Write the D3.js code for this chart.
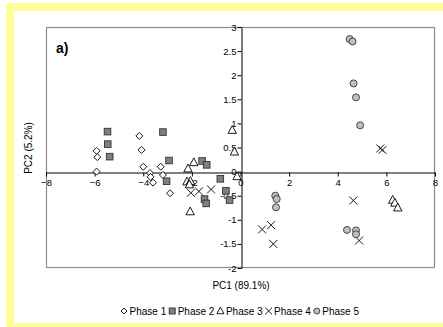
<!DOCTYPE html>
<html><head><meta charset="utf-8">
<script src="https://cdn.jsdelivr.net/npm/d3@7"></script>
<style>body{margin:0;background:#fff;}svg{display:block;font-family:"Liberation Sans",Arial,sans-serif;}</style>
</head><body>
<svg id="c" width="443" height="327"></svg>
<script>
const phaseNames = ["Phase 1","Phase 2","Phase 3","Phase 4","Phase 5"];
const phase1 = [[-5.92,0.43],[-5.89,0.30],[-5.92,0.0],[-4.16,0.74],[-4.07,0.45],[-4.0,0.10],[-3.72,-0.03],[-3.70,-0.11],[-3.60,-0.23],[-3.28,0.10],[-3.19,-0.07],[-2.90,-0.45]];
const phase2 = [[-5.47,0.83],[-5.46,0.57],[-5.38,0.31],[-3.19,0.82],[-2.94,0.23],[-3.04,-0.20],[-1.58,0.22],[-1.39,0.14],[-0.83,-0.15],[-1.48,-0.57],[-1.41,-0.66],[-0.60,-0.40],[-0.45,-0.59]];
const phase3 = [[-0.34,0.86],[-0.25,0.41],[-0.14,-0.10],[-1.92,0.19],[-2.16,0.06],[-2.20,-0.21],[-2.06,-0.20],[-2.10,-0.27],[-2.07,-0.83],[6.26,-0.59],[6.35,-0.65],[6.47,-0.75]];
const phase4 = [[-2.04,-0.44],[-1.71,-0.41],[-1.21,-0.37],[0.89,-1.20],[1.26,-1.11],[1.35,-1.50],[4.64,-0.60],[4.88,-1.43],[5.75,0.48],[5.84,0.45]];
const phase5 = [[4.49,2.75],[4.61,2.70],[4.65,1.83],[4.75,1.54],[4.92,0.96],[1.43,-0.50],[1.49,-0.57],[1.46,-0.74],[4.38,-1.21],[4.75,-1.22],[4.75,-1.30]];
const xTicks = [-8,-6,-4,-2,0,2,4,6,8];
const yTicks = [-2,-1.5,-1,-0.5,0,0.5,1,1.5,2,2.5,3];
const xTitle = "PC1 (89.1%)";
const yTitle = "PC2 (5.2%)";
const panelLabel = "a)";

const svg = d3.select("#c");
// yellow frame
svg.append("rect").attr("x",6).attr("y",3).attr("width",437).attr("height",8).attr("fill","#ffff99");
svg.append("rect").attr("x",6).attr("y",3).attr("width",8).attr("height",324).attr("fill","#ffff99");
svg.append("rect").attr("x",6).attr("y",323).attr("width",437).attr("height",4).attr("fill","#ffff99");

const L=46,R=435,T=27,B=268;
const x = d3.scaleLinear().domain([-8,8]).range([L,R]);
const y = d3.scaleLinear().domain([-2,3]).range([B,T]);

svg.append("rect").attr("x",L+0.5).attr("y",T+0.5).attr("width",R-L-1).attr("height",B-T-1)
  .attr("fill","none").attr("stroke","#8c8c8c").attr("stroke-width",1.2);

const xAxis = svg.append("g").attr("transform",`translate(0,${Math.round(y(0))+0.5})`)
  .call(d3.axisBottom(x).tickValues(xTicks).tickSize(4).tickSizeOuter(0).tickFormat(d3.format("")));
const yAxis = svg.append("g").attr("transform",`translate(${Math.round(x(0))+0.5},0)`)
  .call(d3.axisLeft(y).tickValues(yTicks).tickSize(4).tickSizeOuter(0).tickFormat(d=>String(d)));
[xAxis,yAxis].forEach(g=>{
  g.select(".domain").attr("stroke","#000");
  g.selectAll(".tick line").attr("stroke","#000");
  g.selectAll("text").attr("font-size",9.5).attr("fill","#000").attr("font-family","'Liberation Sans',Arial,sans-serif");
});
xAxis.selectAll("text").attr("dy","0.71em").attr("y",7);
yAxis.selectAll("text").attr("x",-5);

svg.append("text").attr("x",241).attr("y",289).attr("text-anchor","middle").attr("font-size",10).text(xTitle);
svg.append("text").attr("transform","translate(32,148) rotate(-90)").attr("text-anchor","middle").attr("font-size",10).text(yTitle);
svg.append("text").attr("x",56).attr("y",53).attr("font-size",14).attr("font-weight","bold").text(panelLabel);

function marker(g, type, s){
  if(type===0){ g.append("path").attr("d",`M0,${-s}L${s},0L0,${s}L${-s},0Z`).attr("fill","#fff").attr("stroke","#000").attr("stroke-width",0.9); }
  else if(type===1){ g.append("rect").attr("x",-s).attr("y",-s).attr("width",2*s).attr("height",2*s).attr("fill","#808080").attr("stroke","#333").attr("stroke-width",0.9); }
  else if(type===2){ g.append("path").attr("d",`M0,${-s*1.15}L${s*1.05},${s*0.8}L${-s*1.05},${s*0.8}Z`).attr("fill","#fff").attr("stroke","#000").attr("stroke-width",0.9); }
  else if(type===3){ g.append("path").attr("d",`M${-s},${-s}L${s},${s}M${-s},${s}L${s},${-s}`).attr("stroke","#000").attr("stroke-width",0.9).attr("fill","none"); }
  else { g.append("circle").attr("r",s).attr("fill","#c0c0c0").attr("stroke","#333").attr("stroke-width",0.9); }
}
const sizes=[3.5,3.3,4,4,3.5];
[phase1,phase2,phase3,phase4,phase5].forEach((arr,i)=>{
  const g = svg.append("g");
  arr.forEach(d=>{
    const m = g.append("g").attr("transform",`translate(${x(d[0])},${y(d[1])})`);
    marker(m,i,sizes[i]);
  });
});

// legend
const lg = svg.append("g");
let cx = 0;
const lsz=[3,3,3.4,3.4,3];
phaseNames.forEach((n,i)=>{
  const m = lg.append("g").attr("transform",`translate(${cx+3.5},0)`);
  marker(m,i,lsz[i]);
  const t = lg.append("text").attr("x",cx+9).attr("y",3.5).attr("font-size",10).text(n);
  cx += 9 + t.node().getComputedTextLength() + 2.5;
});
lg.attr("transform",`translate(${241 - cx/2},311)`);
</script>
</body></html>
